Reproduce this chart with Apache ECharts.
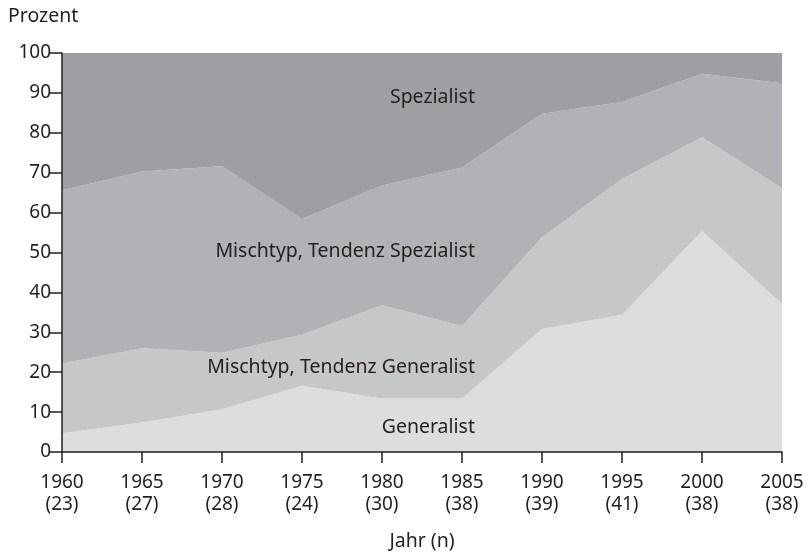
<!DOCTYPE html>
<html>
<head>
<meta charset="utf-8">
<script src="https://cdn.jsdelivr.net/npm/echarts@6/dist/echarts.min.js"></script>
<style>
  html, body { margin: 0; padding: 0; background: #fff; }
  #chart { width: 807px; height: 552px; }
</style>
</head>
<body>
<div id="chart"></div>
<script>
// years and number of cases (n)
var years = ['1960', '1965', '1970', '1975', '1980', '1985', '1990', '1995', '2000', '2005'];
var counts = ['23', '27', '28', '24', '30', '38', '39', '41', '38', '38'];

// shares in percent, stacked from bottom to top
var generalist    = [4.7, 7.4, 10.7, 16.6, 13.4, 13.4, 30.8, 34.4, 55.4, 37.1];
var mischGen      = [17.5, 18.6, 14.2, 12.8, 23.4, 18.2, 23.0, 34.0, 23.5, 29.0];
var mischSpez     = [43.4, 44.3, 46.7, 29.0, 30.0, 39.7, 31.0, 19.3, 15.9, 26.3];
var spezialist    = [34.4, 29.7, 28.4, 41.6, 33.2, 28.7, 15.2, 12.3, 5.2, 7.6];

var seriesNames = ['Generalist', 'Mischtyp, Tendenz Generalist', 'Mischtyp, Tendenz Spezialist', 'Spezialist'];
var seriesData = [generalist, mischGen, mischSpez, spezialist];
var colors = ['#dcdddf', '#c6c7c9', '#b1b2b5', '#9e9fa3'];

var font = '"Noto Sans", sans-serif';
var textColor = '#231f20';
var fs = 19.5;

var chart = echarts.init(document.getElementById('chart'));

var series = seriesData.map(function (d, i) {
  return {
    name: seriesNames[i],
    type: 'line',
    stack: 'total',
    data: d,
    symbol: 'none',
    lineStyle: { width: 0 },
    areaStyle: { color: colors[i], opacity: 1 },
    silent: true,
    z: 2
  };
});

function label(text, y) {
  return {
    type: 'text', x: 475, y: y, z: 10,
    style: { text: text, font: fs + 'px ' + font, fill: textColor, align: 'right', verticalAlign: 'middle' }
  };
}

chart.setOption({
  animation: false,
  grid: { left: 62, right: 25, top: 53, bottom: 100, containLabel: false, outerBoundsMode: 'none' },
  xAxis: {
    type: 'category',
    data: years,
    boundaryGap: false,
    name: 'Jahr (n)',
    nameLocation: 'middle',
    nameGap: 89,
    nameTextStyle: { fontFamily: font, fontSize: fs, color: textColor, verticalAlign: 'middle' },
    axisLine: { lineStyle: { color: textColor, width: 1.5 } },
    axisTick: { length: 11, lineStyle: { color: textColor, width: 1.5 }, alignWithLabel: true },
    axisLabel: {
      margin: 20,
      fontFamily: font,
      fontSize: 19,
      color: textColor,
      lineHeight: 22,
      interval: 0,
      formatter: function (v, idx) { return v + '\n(' + counts[idx] + ')'; }
    },
    z: 5
  },
  yAxis: {
    type: 'value',
    min: 0,
    max: 100,
    interval: 10,
    axisLine: { show: true, lineStyle: { color: textColor, width: 1.5 } },
    axisTick: { show: true, length: 12, lineStyle: { color: textColor, width: 1.5 } },
    axisLabel: { margin: 11, fontFamily: font, fontSize: 19, color: textColor },
    splitLine: { show: false },
    z: 5
  },
  graphic: [
    { type: 'text', x: 8, y: 16, style: { text: 'Prozent', font: fs + 'px ' + font, fill: textColor, verticalAlign: 'middle' } },
    label('Spezialist', 97),
    label('Mischtyp, Tendenz Spezialist', 251),
    label('Mischtyp, Tendenz Generalist', 367),
    label('Generalist', 427)
  ],
  series: series
});
</script>
</body>
</html>
